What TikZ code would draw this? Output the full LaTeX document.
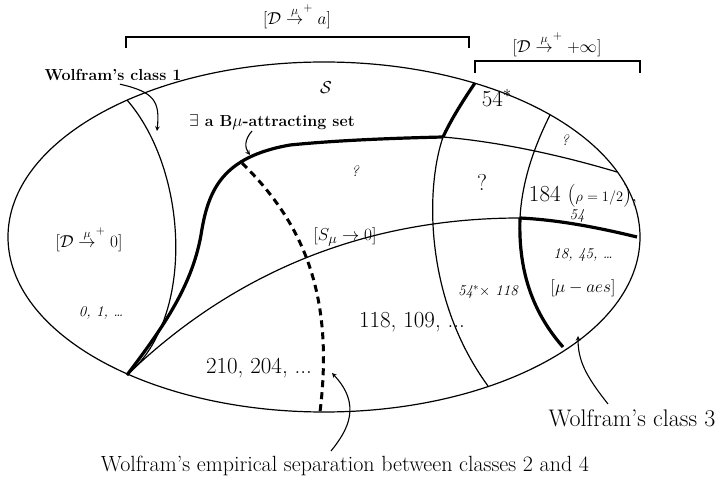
\documentclass[tikz,border=0pt]{standalone}
\usepackage{amsmath}
\usetikzlibrary{positioning,arrows}

\newcommand{\muto}{\mathrel{\overset{\mu}{\rightarrow}}^{+}}

\begin{document}
\begin{tikzpicture}[x=1pt,y=-1pt,
    border/.style={line width=1.2pt},
    heavy/.style={line width=3.2pt},
    sepline/.style={line width=3pt, dash pattern=on 7pt off 5pt},
    pointer/.style={line width=1.1pt,-stealth},
    big/.style={font=\fontsize{23}{27}\selectfont},
    mid/.style={font=\fontsize{19}{23}\selectfont},
    brk/.style={font=\fontsize{18}{22}\selectfont},
    tag/.style={font=\fontsize{16}{19}\selectfont\bfseries},
    ital/.style={font=\fontsize{15}{18}\selectfont\itshape}]
    \useasboundingbox (0,0) rectangle (721,486);

    % Set coordinates
    \coordinate (c) at (324,237);
    \coordinate (p0) at (127,375);
    \coordinate (t1) at (127,100);
    \coordinate (t2) at (475,83);
    \coordinate (t3) at (550,115);
    \coordinate (r1) at (617,172);
    \coordinate (r2) at (637,237);
    \coordinate (x1) at (443,137);
    \coordinate (x2) at (520,218);
    \coordinate (k) at (242,163);
    \coordinate (b1) at (488,386);
    \coordinate (b2) at (320,412);
    \coordinate (e3) at (563,347);
    \coordinate (ba1) at (126,48); \coordinate (ba2) at (469,48);
    \coordinate (bb1) at (475,73); \coordinate (bb2) at (640,73);

    % Draw lines
    \draw[border] (c) ellipse [x radius=316, y radius=175];
    \draw[border] (t1) .. controls (188,170) and (196,318) .. (p0);
    \draw[heavy] (p0) .. controls (165,325) and (192,285) .. (201,235)
                      .. controls (208,190) and (222,157) .. (290,145)
                      .. controls (340,140) and (400,138) .. (x1);
    \draw[border] (x1) .. controls (500,142) and (560,155) .. (r1);
    \draw[heavy] (t2) .. controls (460,105) and (450,122) .. (x1);
    \draw[border] (x1) .. controls (425,190) and (425,300) .. (b1);
    \draw[border] (t3) .. controls (535,145) and (522,180) .. (x2);
    \draw[heavy] (x2) .. controls (518,275) and (535,315) .. (e3);
    \draw[border] (p0) .. controls (205,300) and (330,218) .. (x2);
    \draw[heavy] (x2) .. controls (560,220) and (600,228) .. (r2);
    \draw[sepline] (k) .. controls (300,220) and (335,290) .. (b2);

    % Brackets
    \draw[border] (ba1) -- ++(0,-11) -| (ba2);
    \draw[border] (bb1) -- ++(0,-12) -| (bb2);
    \node[brk] (lba) at (297,17) {$[\mathcal{D} \muto a]$};
    \node[brk] (lbb) at (557,45) {$[\mathcal{D} \muto +\infty]$};

    % Region labels
    \node[mid] (ls) at (326,88) {$\mathcal{S}$};
    \node[brk] (l0) at (89,240) {$[\mathcal{D} \muto 0]$};
    \node[ital] (n01) at (101,313) {0, 1, \dots};
    \node[ital] (q1) at (355,171) {?};
    \node[big] (s54) at (497,98) {54$^*$};
    \node[ital] (q2) at (565,140) {?};
    \node[big] (q3) at (482,182) {?};
    \node[mid] (lsm) at (345,237) {$[S_\mu \to 0]$};
    \node[big] (v184) at (583,196) {184 ({\fontsize{15}{18}\selectfont$\rho = 1/2$}),};
    \node[ital] (v54) at (577,216) {54};
    \node[ital] (v18) at (583,255) {18, 45, \dots};
    \node[mid] (laes) at (583,288) {$[\mu - aes]$};
    \node[ital] (vx) at (488,292) {54$^*\times$ 118};
    \node[big] (v118) at (412,322) {118, 109, ...};
    \node[big] (v210) at (259,368) {210, 204, ...};

    % Pointers
    \node[tag] (cls1) at (113,75) {Wolfram's class 1};
    \draw[pointer] ([xshift=7pt]cls1.south) .. controls (155,92) and (160,102) .. (157,131);
    \node[tag] (attr) at (272,122) {$\exists$ a B$\mu$-attracting set};
    \draw[pointer] (252,131) .. controls (244,140) and (245,148) .. (250,155);
    \node[font=\fontsize{24}{28}\selectfont] (cls3) at (632,418) {Wolfram's class 3};
    \draw[pointer] (608,404) .. controls (585,375) and (578,360) .. (578,336);
    \node[font=\fontsize{22}{26}\selectfont] (sep) at (345,466) {Wolfram's empirical separation between classes 2 and 4};
    \draw[pointer] (331,451) .. controls (348,430) and (362,405) .. (332,373);
\end{tikzpicture}
\end{document}
